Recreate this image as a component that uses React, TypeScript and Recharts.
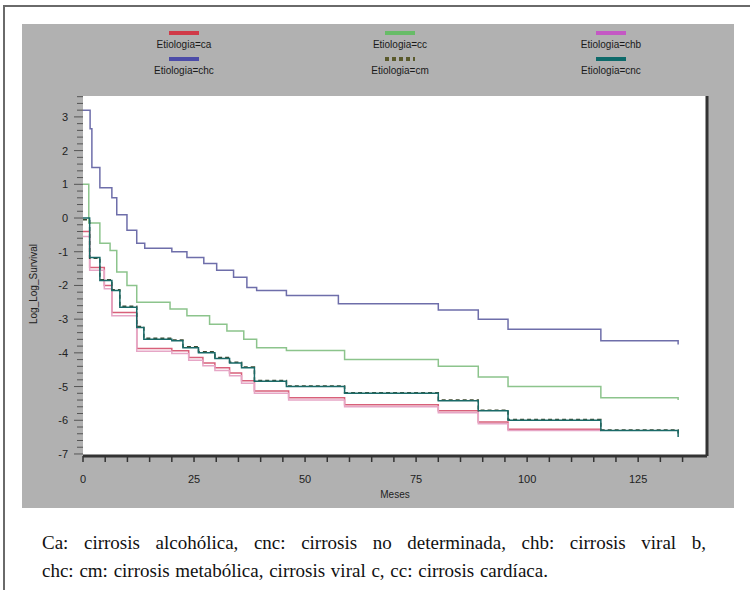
import React from 'react';
import { LineChart, Line, XAxis, YAxis, CartesianGrid, ReferenceLine } from 'recharts';

// log(-log(S)) by month as [month, value] steps
const ca = [
  [0, -0.4], [1.5, -1.47], [4.8, -2.0], [6.5, -2.8], [12.1, -3.87], [20, -3.94], [23.8, -4.14],
  [27, -4.3], [29.7, -4.44], [33, -4.6], [35.7, -4.83], [38.6, -5.13], [46.3, -5.33],
  [58.9, -5.54], [80, -5.72], [89, -6.05], [95.7, -6.27], [116.6, -6.3],
];
const cc = [
  [0, 1.0], [1.3, -0.15], [3.8, -0.75], [6.1, -0.96], [7.6, -1.6], [9.9, -2.0], [12.1, -2.5],
  [19.6, -2.7], [23.4, -2.9], [28.5, -3.15], [32.4, -3.35], [36.2, -3.6], [39.1, -3.85],
  [45.8, -3.93], [58.9, -4.2], [80, -4.4], [89, -4.72], [95.7, -5.0], [116.6, -5.33], [134, -5.4],
];
const chb = [
  [0, -0.55], [1.5, -1.55], [4.8, -2.1], [6.5, -2.9], [12.1, -3.95], [20, -4.02], [23.8, -4.22],
  [27, -4.38], [29.7, -4.52], [33, -4.68], [35.7, -4.9], [38.6, -5.2], [46.3, -5.4],
  [58.9, -5.6], [80, -5.78], [89, -6.1], [95.7, -6.3], [116.6, -6.32],
];
const chc = [
  [0, 3.2], [1.6, 2.65], [2.0, 1.5], [3.8, 0.9], [6.5, 0.6], [7.6, 0.1], [9.9, -0.36],
  [12.1, -0.75], [13.9, -0.9], [20, -1.0], [23.4, -1.17], [27.2, -1.35], [30.1, -1.55],
  [33.9, -1.76], [36.9, -2.06], [39.1, -2.15], [45.8, -2.3], [57.5, -2.54], [80, -2.73],
  [89, -3.0], [95.7, -3.3], [116.6, -3.64], [134, -3.75],
];
const cm = [
  [0, -0.05], [1.5, -1.19], [3.8, -1.83], [6.5, -2.13], [8.3, -2.62], [12.1, -3.22], [13.7, -3.57],
  [20, -3.62], [22.5, -3.82], [26, -3.97], [29.7, -4.14], [33, -4.28], [35.7, -4.42], [38.6, -4.82],
  [45.8, -4.98], [58.9, -5.18], [80, -5.4], [89, -5.7], [95.7, -5.98], [116.6, -6.29], [134, -6.47],
];
const cnc = [
  [0, 0.0], [1.5, -1.17], [3.8, -1.85], [6.5, -2.15], [8.3, -2.65], [12.1, -3.25], [13.7, -3.6],
  [20, -3.64], [22.5, -3.85], [26, -4.0], [29.7, -4.17], [33, -4.3], [35.7, -4.44], [38.6, -4.84],
  [45.8, -5.0], [58.9, -5.2], [80, -5.42], [89, -5.72], [95.7, -6.0], [116.6, -6.3], [134, -6.5],
];

const xLabelTicks = [0, 25, 50, 75, 100, 125];
const yLabelTicks = [-7, -6, -5, -4, -3, -2, -1, 0, 1, 2, 3];

const xTicks: number[] = [];
for (let v = 0; v <= 135; v += 5) xTicks.push(v);
const yTicks: number[] = [];
for (let v = -70; v <= 36; v += 2) yTicks.push(v / 10);

const series = [
  { key: 'ca', name: 'Etiologia=ca', data: ca, color: '#d8607a', swatch: '#d03a48' },
  { key: 'cc', name: 'Etiologia=cc', data: cc, color: '#8cc48c', swatch: '#68bc68' },
  { key: 'chb', name: 'Etiologia=chb', data: chb, color: '#e6a6c6', swatch: '#c458c4' },
  { key: 'chc', name: 'Etiologia=chc', data: chc, color: '#6e6eaa', swatch: '#4c4ca8' },
  { key: 'cm', name: 'Etiologia=cm', data: cm, color: '#3c4a30', swatch: '#5a5a2c', dash: '4 3' },
  { key: 'cnc', name: 'Etiologia=cnc', data: cnc, color: '#1a6a68', swatch: '#0e6a6a' },
];

const toPoints = (arr: number[][]) => arr.map(([x, y]) => ({ x, y }));

const XTick = (props: any) => {
  const { x, y, payload } = props;
  const major = xLabelTicks.includes(payload.value);
  return (
    <g>
      <line x1={x} x2={x} y1={y} y2={y + 6} stroke="#333" strokeWidth={1.5} />
      {major && (
        <text x={x} y={y + 27} textAnchor="middle" fontSize={11} fill="#222">
          {payload.value}
        </text>
      )}
    </g>
  );
};

const YTick = (props: any) => {
  const { x, y, payload } = props;
  const v = Math.round(payload.value * 10) / 10;
  const major = yLabelTicks.includes(v);
  return (
    <g>
      <line x1={x - (major ? 9 : 6)} x2={x} y1={y} y2={y} stroke="#555" strokeWidth={1} />
      {major && (
        <text x={x - 15} y={y + 4} textAnchor="end" fontSize={11} fill="#222">
          {v}
        </text>
      )}
    </g>
  );
};

const App = () => {
  return (
    <div style={{ position: 'absolute', left: 0, top: 0, width: 750, height: 590, background: '#fff' }}>
      <div
        style={{
          position: 'absolute', left: 3, top: 5, width: 747, height: 585,
          borderTop: '2px solid #6a6a6a', borderLeft: '2px solid #6a6a6a',
        }}
      />
      <div style={{ position: 'absolute', left: 22, top: 24, width: 712, height: 484, background: '#b1b1b1' }}>
        <div style={{ position: 'absolute', left: 0, top: 0, width: 712, height: 72, fontFamily: 'Liberation Sans, Arial, sans-serif' }}>
          {series.map((s, i) => {
            const col = i % 3;
            const row = Math.floor(i / 3);
            const cx = [162, 378, 589][col];
            const top = 7 + row * 26;
            return (
              <div key={s.key} style={{ position: 'absolute', left: cx - 50, top, width: 100, textAlign: 'center' }}>
                <svg width={30} height={4} style={{ display: 'block', margin: '0 auto' }}>
                  <line x1={0} x2={30} y1={2} y2={2} stroke={s.swatch} strokeWidth={4} strokeDasharray={s.dash} />
                </svg>
                <div style={{ fontSize: 10, color: '#1a1a1a', lineHeight: '14px', marginTop: 3 }}>{s.name}</div>
              </div>
            );
          })}
        </div>
        <div style={{ position: 'absolute', left: 0, top: 0 }}>
          <LineChart
            width={712}
            height={484}
            margin={{ top: 72, right: 27, left: 11, bottom: 7 }}
            style={{ fontFamily: 'Liberation Sans, Arial, sans-serif' }}
          >
            <CartesianGrid fill="#ffffff" horizontal={false} vertical={false} />
            <XAxis
              type="number"
              dataKey="x"
              domain={[0, 140.5]}
              ticks={xTicks}
              interval={0}
              height={45}
              tickSize={0}
              tickMargin={0}
              tick={<XTick />}
              axisLine={{ stroke: '#333', strokeWidth: 3 }}
              label={{ value: 'Meses', position: 'insideBottom', offset: 3, fontSize: 10, fill: '#222' }}
            />
            <YAxis
              type="number"
              domain={[-7.06, 3.62]}
              ticks={yTicks}
              interval={0}
              width={50}
              tickSize={0}
              tickMargin={0}
              tick={<YTick />}
              axisLine={false}
              label={{ value: 'Log_Log_Survival', angle: -90, position: 'center', dx: -25, dy: 8, fontSize: 10, fill: '#222' }}
            />
            <ReferenceLine x={140.5} stroke="#333" strokeWidth={3} />
            {series.map((s) => (
              <Line
                key={s.key}
                data={toPoints(s.data)}
                dataKey="y"
                name={s.name}
                type="stepAfter"
                stroke={s.color}
                strokeWidth={1.5}
                strokeDasharray={s.dash}
                dot={false}
                isAnimationActive={false}
              />
            ))}
          </LineChart>
        </div>
      </div>
      <div
        style={{
          position: 'absolute', left: 42, top: 529, width: 664,
          fontFamily: 'Liberation Serif, Times New Roman, serif', fontSize: 19,
          lineHeight: '28px', color: '#111', wordSpacing: 1,
        }}
      >
        <div style={{ textAlign: 'justify', textAlignLast: 'justify', whiteSpace: 'nowrap' }}>
          Ca: cirrosis alcohólica, cnc: cirrosis no determinada, chb: cirrosis viral b,
        </div>
        <div>chc: cm: cirrosis metabólica, cirrosis viral c, cc: cirrosis cardíaca.</div>
      </div>
    </div>
  );
};

export default App;
